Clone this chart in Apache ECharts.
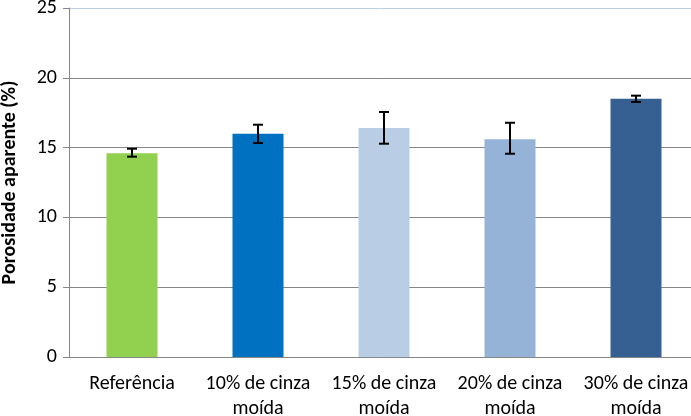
<!DOCTYPE html>
<html><head><meta charset="utf-8">
<script src="https://cdn.jsdelivr.net/npm/echarts@6/dist/echarts.min.js"></script>
<style>html,body{margin:0;padding:0;background:#fff}#c{width:691px;height:416px}</style>
</head><body><div id="c"></div>
<script>
const categories = ["Referência", "10% de cinza\nmoída", "15% de cinza\nmoída", "20% de cinza\nmoída", "30% de cinza\nmoída"];
const values = [14.6, 16.0, 16.4, 15.6, 18.5];
const errLow = [14.35, 15.33, 15.28, 14.56, 18.27];
const errHigh = [14.92, 16.64, 17.55, 16.78, 18.72];
const colors = ["#92D050", "#0070C0", "#B9CDE5", "#95B3D7", "#376092"];
const yTicks = [0, 5, 10, 15, 20, 25];
const FONT = "Carlito, 'Liberation Sans Narrow', 'Open Sans', sans-serif";

const chart = echarts.init(document.getElementById('c'), null, {renderer: 'canvas'});
chart.setOption({
  animation: false,
  grid: {left: 69, top: 8, width: 630, height: 349, containLabel: false, outerBoundsMode: 'none'},
  xAxis: {
    type: 'category', data: categories,
    axisLine: {lineStyle: {color: '#868686', width: 1}},
    axisTick: {show: false},
    axisLabel: {color: '#000', fontFamily: FONT, fontSize: 20, margin: 14, lineHeight: 25, interval: 0}
  },
  yAxis: {
    type: 'value', min: 0, max: 25, interval: 5,
    name: 'Porosidade aparente (%)', nameLocation: 'middle', nameGap: 49, nameRotate: 90,
    nameTextStyle: {color: '#000', fontFamily: FONT, fontSize: 20, fontWeight: 'bold'},
    axisLine: {show: true, lineStyle: {color: '#868686'}},
    axisTick: {show: true, length: 6, lineStyle: {color: '#868686'}},
    axisLabel: {color: '#000', fontFamily: FONT, fontSize: 20, margin: 12,
      formatter: v => yTicks.includes(v) ? String(v) : ''},
    splitLine: {show: true, lineStyle: {color: ['#868686', '#868686', '#868686', '#868686', '#868686', '#B9CDE5'], width: 1}}
  },
  series: [
    {
      type: 'bar', barWidth: 51,
      data: values.map((v, i) => ({value: v, itemStyle: {color: colors[i]}}))
    },
    {
      type: 'custom', z: 10,
      data: categories.map((c, i) => [i, errLow[i], errHigh[i]]),
      renderItem: function (params, api) {
        const x = api.value(0);
        const lo = api.coord([x, api.value(1)]);
        const hi = api.coord([x, api.value(2)]);
        const hw = 5;
        const st = {stroke: '#000', lineWidth: 2};
        return {type: 'group', children: [
          {type: 'line', shape: {x1: lo[0], y1: lo[1], x2: hi[0], y2: hi[1]}, style: st},
          {type: 'line', shape: {x1: lo[0]-hw, y1: lo[1], x2: lo[0]+hw, y2: lo[1]}, style: st},
          {type: 'line', shape: {x1: hi[0]-hw, y1: hi[1], x2: hi[0]+hw, y2: hi[1]}, style: st}
        ]};
      }
    }
  ]
});
</script></body></html>
